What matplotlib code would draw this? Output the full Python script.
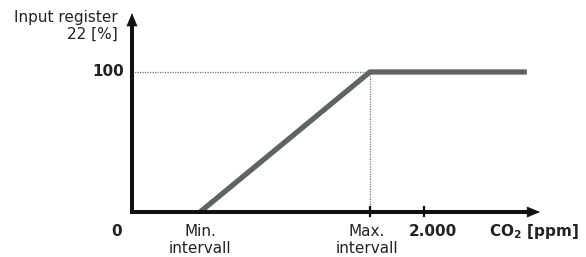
import matplotlib.pyplot as plt

# CO2 (ppm) vs input register (%)
curve_x = [466, 1630, 2705]
curve_y = [0, 100, 100]
tick_x = [1630, 2000]
x_end = 2795
y_end = 142

fig = plt.figure(figsize=(5.86, 2.57), dpi=100)
ax = fig.add_axes([0, 0, 1, 1])
ax.set_xlim(-904, 3110)
ax.set_ylim(-32.1, 151.4)
ax.axis('off')

dark = '#111111'
grey = '#5f6361'
txt = '#222222'

# dotted guides
ax.plot([0, curve_x[1]], [100, 100], color='#777777', lw=0.9, ls=(0, (1, 1)))
ax.plot([curve_x[1], curve_x[1]], [0, 100], color='#777777', lw=0.9, ls=(0, (1, 1)))

# curve
ax.plot(curve_x, curve_y, color=grey, lw=3.8, solid_capstyle='butt', solid_joinstyle='miter')

# axes with arrow heads
ax.plot([0, x_end - 70], [0, 0], color=dark, lw=2.9, solid_capstyle='projecting')
ax.plot([0, 0], [0, y_end - 7], color=dark, lw=2.9, solid_capstyle='projecting')
head = dict(arrowstyle='-|>,head_length=0.43,head_width=0.18', mutation_scale=20,
            lw=0.5, color=dark, shrinkA=0, shrinkB=0)
ax.annotate('', xy=(x_end, 0), xytext=(x_end - 100, 0), arrowprops=head)
ax.annotate('', xy=(0, y_end), xytext=(0, y_end - 10), arrowprops=head)

for tx in tick_x:
    ax.plot([tx, tx], [-3, 3.8], color=dark, lw=1.6)

fs = 11
ax.text(-68, -14, '0', ha='right', va='center', fontsize=fs, fontweight='bold', color=txt)
ax.text(-55, 100, '100', ha='right', va='center', fontsize=fs, fontweight='bold', color=txt)
ax.text(-100, 133, 'Input register\n22 [%]', ha='right', va='center', fontsize=fs,
        color=txt, linespacing=1.1)
ax.text(curve_x[0], -20, 'Min.\nintervall', ha='center', va='center', fontsize=fs,
        color=txt, linespacing=1.15)
ax.text(curve_x[1] - 20, -20, 'Max.\nintervall', ha='center', va='center', fontsize=fs,
        color=txt, linespacing=1.15)
ax.text(2060, -14, '2.000', ha='center', va='center', fontsize=fs, fontweight='bold', color=txt)
ax.text(2750, -14, 'CO$_\\mathbf{2}$ [ppm]', ha='center', va='center', fontsize=fs,
        fontweight='bold', color=txt)

fig.savefig('out.png', dpi=100)
